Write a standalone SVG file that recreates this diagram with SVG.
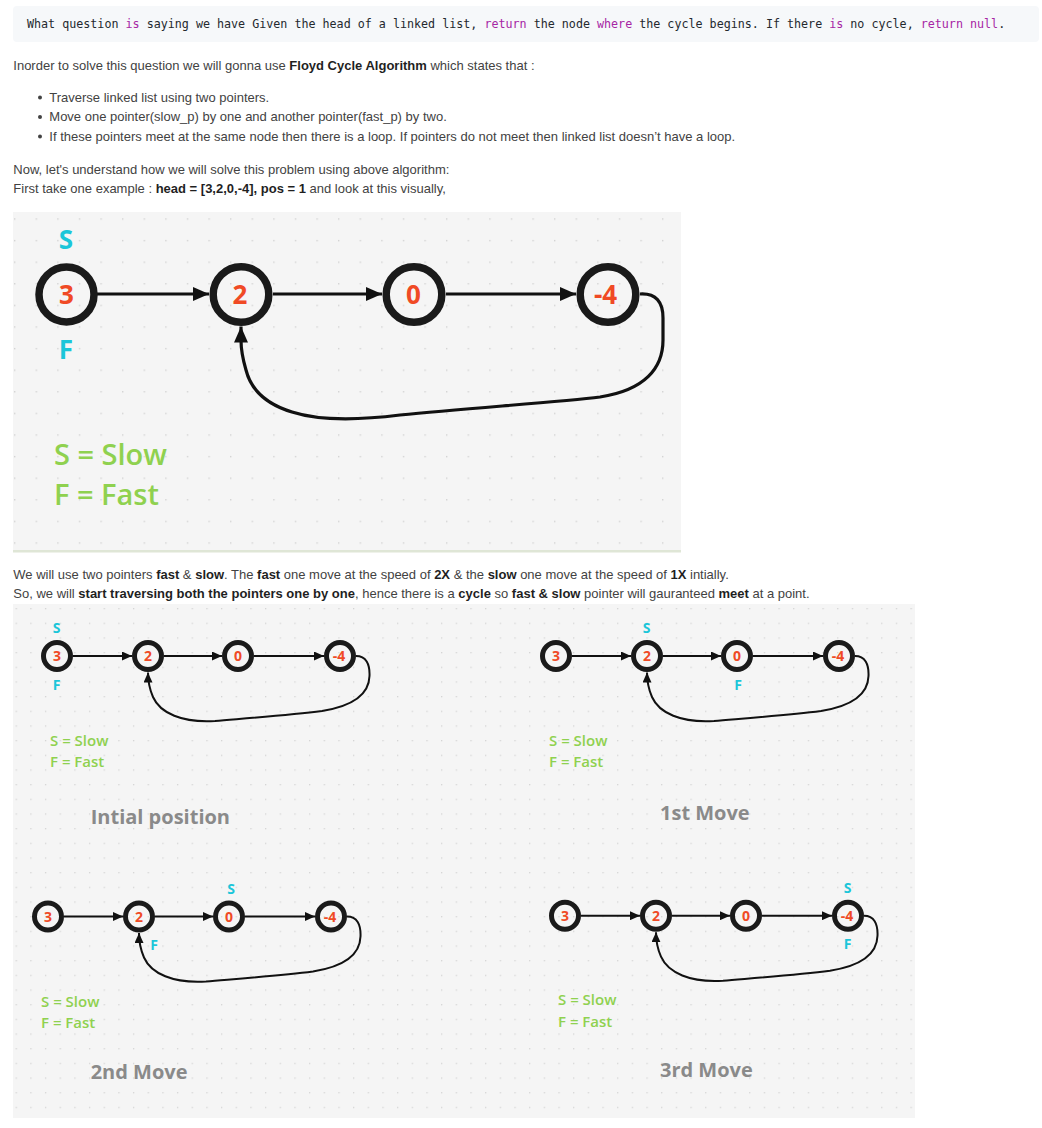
<svg xmlns="http://www.w3.org/2000/svg" width="1042" height="1128" viewBox="0 0 1042 1128">
<defs>
<style>
.body{font-family:"Liberation Sans",Arial,sans-serif;font-size:13px;fill:#424242}
.b{font-weight:700;fill:#1f1f1f}
.code{font-family:"DejaVu Sans Mono","Liberation Mono",monospace;font-size:11.7px;fill:#24292e}
.kw{fill:#a626a4}
.ring{fill:none;stroke:#1a1a1a}
.bigring{stroke-width:7.5}
.smring{stroke-width:5}
.num{font-family:"Open Sans","Noto Sans",sans-serif;font-weight:700;fill:#f04a25;text-anchor:middle}
.ptr{font-family:"Open Sans","Noto Sans",sans-serif;font-weight:700;fill:#1cc6d9;text-anchor:middle}
.leg{font-family:"Open Sans","Noto Sans",sans-serif;font-weight:600;fill:#8fd14f}
.ttl{font-family:"Open Sans","Noto Sans",sans-serif;font-weight:700;fill:#8a8a8a;font-size:20px}
.edge{fill:none;stroke:#111;stroke-linejoin:round}
.bigedge{stroke-width:3.2;marker-end:url(#ahBig)}
.smedge{stroke-width:2;marker-end:url(#ahSm)}
</style>
<pattern id="gridBig" patternUnits="userSpaceOnUse" x="14" y="218.3" width="21.6" height="21.6">
<rect x="0" y="0" width="1.4" height="1.4" fill="#d2d2d2"/>
</pattern>
<pattern id="gridSm" patternUnits="userSpaceOnUse" x="15.6" y="608" width="14.67" height="14.67">
<rect x="0" y="0" width="1.3" height="1.3" fill="#d4d4d4"/>
</pattern>
<marker id="ahBig" markerUnits="userSpaceOnUse" markerWidth="16" markerHeight="14" refX="16" refY="7" orient="auto">
<path d="M0,0 L16,7 L0,14 z" fill="#111"/>
</marker>
<marker id="ahSm" markerUnits="userSpaceOnUse" markerWidth="10" markerHeight="9" refX="10" refY="4.5" orient="auto">
<path d="M0,0 L10,4.5 L0,9 z" fill="#111"/>
</marker>
</defs>

<rect x="0" y="0" width="1042" height="1128" fill="#ffffff"/>

<!-- code block -->
<g id="codeblock">
<rect x="13" y="6" width="1026" height="36" rx="4" fill="#f6f8fa"/>
<text class="code" x="27" y="27.7">What question <tspan class="kw">is</tspan> saying we have Given the head of a linked list, <tspan class="kw">return</tspan> the node <tspan class="kw">where</tspan> the cycle begins. If there <tspan class="kw">is</tspan> no cycle, <tspan class="kw">return</tspan> <tspan class="kw">null</tspan>.</text>
</g>

<!-- body text -->
<g id="intro">
<text class="body" x="13.3" y="69.5">Inorder to solve this question we will gonna use <tspan class="b">Floyd Cycle Algorithm</tspan> which states that :</text>
<circle cx="40" cy="97.5" r="2" fill="#424242"/>
<text class="body" x="49.3" y="101.5">Traverse linked list using two pointers.</text>
<circle cx="40" cy="117" r="2" fill="#424242"/>
<text class="body" x="49.3" y="121">Move one pointer(slow_p) by one and another pointer(fast_p) by two.</text>
<circle cx="40" cy="136.5" r="2" fill="#424242"/>
<text class="body" x="49.3" y="140.5">If these pointers meet at the same node then there is a loop. If pointers do not meet then linked list doesn’t have a loop.</text>
<text class="body" x="13.3" y="174">Now, let's understand how we will solve this problem using above algorithm:</text>
<text class="body" x="13.3" y="193.3">First take one example : <tspan class="b">head = [3,2,0,-4], pos = 1</tspan> and look at this visually,</text>
</g>

<!-- big diagram -->
<g id="panel1">
<rect x="13" y="212" width="668" height="338" fill="#f5f5f5"/>
<rect x="13" y="212" width="668" height="338" fill="url(#gridBig)"/>
<rect x="13" y="550" width="668" height="2.5" fill="#dfe6d6"/>
</g>
<g id="big-edges">
<path class="edge bigedge" d="M97 294 L209 294"/>
<path class="edge bigedge" d="M273 294 L382 294"/>
<path class="edge bigedge" d="M446 294 L576 294"/>
<path class="edge bigedge" d="M640 294 C656 293 663 302 663 318 L663 340 C663 368 645 390 600 397 C560 402 470 408 400 415 C360 420 320 421 292 412 C266 404 251 390 246 370 C242.5 358 241 350 241 340 L241 326.5"/>
</g>
<g id="big-node-3"><circle class="ring bigring" cx="66.5" cy="294.5" r="27.5"/><text class="num" x="66.5" y="303.5" font-size="26">3</text></g>
<g id="big-node-2"><circle class="ring bigring" cx="241" cy="294.5" r="27.8"/><text class="num" x="240" y="303.5" font-size="26">2</text></g>
<g id="big-node-0"><circle class="ring bigring" cx="414" cy="294.5" r="27.8"/><text class="num" x="413.5" y="303.5" font-size="26">0</text></g>
<g id="big-node-m4"><circle class="ring bigring" cx="608" cy="294.5" r="27.8"/><text class="num" x="605.5" y="303.5" font-size="26">-4</text></g>
<g id="big-labels">
<text class="ptr" x="66" y="249" font-size="26">S</text>
<text class="ptr" x="66" y="359" font-size="26">F</text>
<text class="leg" x="54" y="465" font-size="29">S = Slow</text>
<text class="leg" x="54" y="505" font-size="29">F = Fast</text>
</g>

<g id="para2">
<text class="body" x="13.3" y="579">We will use two pointers <tspan class="b">fast</tspan> &amp; <tspan class="b">slow</tspan>. The <tspan class="b">fast</tspan> one move at the speed of <tspan class="b">2X</tspan> &amp; the <tspan class="b">slow</tspan> one move at the speed of <tspan class="b">1X</tspan> intially.</text>
<text class="body" x="13.3" y="598">So, we will <tspan class="b">start traversing both the pointers one by one</tspan>, hence there is a <tspan class="b">cycle</tspan> so <tspan class="b">fast &amp; slow</tspan> pointer will gauranteed <tspan class="b">meet</tspan> at a point.</text>
</g>

<!-- panel 2 -->
<g id="panel2">
<rect x="13" y="604" width="902" height="514" fill="#f5f5f5"/>
<rect x="13" y="604" width="902" height="514" fill="url(#gridSm)"/>
</g>

<!-- Initial position -->
<g id="stepA">
<g id="stepA-edges">
<path class="edge smedge" d="M73 656 L132 656"/>
<path class="edge smedge" d="M164 656 L222 656"/>
<path class="edge smedge" d="M254 656 L324 656"/>
<path class="edge smedge" d="M356 656 C366 656 370 664 369.5 676 C369 695 353 706 322 711 C290 715 250 718 215 721 C182 723 160 713 153 697 C149.5 689 148 682 148 672.5"/>
</g>
<g id="stepA-node-3"><circle class="ring smring" cx="57" cy="656" r="13.5"/><text class="num" x="57" y="661" font-size="14">3</text></g>
<g id="stepA-node-2"><circle class="ring smring" cx="148" cy="656" r="13.5"/><text class="num" x="148" y="661" font-size="14">2</text></g>
<g id="stepA-node-0"><circle class="ring smring" cx="238" cy="656" r="13.5"/><text class="num" x="238" y="661" font-size="14">0</text></g>
<g id="stepA-node-m4"><circle class="ring smring" cx="340" cy="656" r="13.5"/><text class="num" x="339" y="661" font-size="14">-4</text></g>
<text class="ptr" x="56.5" y="633" font-size="14">S</text>
<text class="ptr" x="56.5" y="690" font-size="14">F</text>
<text class="leg" x="50" y="746" font-size="15">S = Slow</text>
<text class="leg" x="50" y="767" font-size="15">F = Fast</text>
</g>

<!-- 1st move -->
<g id="stepB" transform="translate(499,0)">
<g id="stepB-edges">
<path class="edge smedge" d="M73 656 L132 656"/>
<path class="edge smedge" d="M164 656 L222 656"/>
<path class="edge smedge" d="M254 656 L324 656"/>
<path class="edge smedge" d="M356 656 C366 656 370 664 369.5 676 C369 695 353 706 322 711 C290 715 250 718 215 721 C182 723 160 713 153 697 C149.5 689 148 682 148 672.5"/>
</g>
<g id="stepB-node-3"><circle class="ring smring" cx="57" cy="656" r="13.5"/><text class="num" x="57" y="661" font-size="14">3</text></g>
<g id="stepB-node-2"><circle class="ring smring" cx="148" cy="656" r="13.5"/><text class="num" x="148" y="661" font-size="14">2</text></g>
<g id="stepB-node-0"><circle class="ring smring" cx="238" cy="656" r="13.5"/><text class="num" x="238" y="661" font-size="14">0</text></g>
<g id="stepB-node-m4"><circle class="ring smring" cx="340" cy="656" r="13.5"/><text class="num" x="339" y="661" font-size="14">-4</text></g>
<text class="ptr" x="147.5" y="633" font-size="14">S</text>
<text class="ptr" x="239" y="690" font-size="14">F</text>
<text class="leg" x="50" y="746" font-size="15">S = Slow</text>
<text class="leg" x="50" y="767" font-size="15">F = Fast</text>
</g>

<!-- 2nd move -->
<g id="stepC" transform="translate(-9,260.5)">
<g id="stepC-edges">
<path class="edge smedge" d="M73 656 L132 656"/>
<path class="edge smedge" d="M164 656 L222 656"/>
<path class="edge smedge" d="M254 656 L324 656"/>
<path class="edge smedge" d="M356 656 C366 656 370 664 369.5 676 C369 695 353 706 322 711 C290 715 250 718 215 721 C182 723 160 713 153 697 C149.5 689 148 682 148 672.5"/>
</g>
<g id="stepC-node-3"><circle class="ring smring" cx="57" cy="656" r="13.5"/><text class="num" x="57" y="661" font-size="14">3</text></g>
<g id="stepC-node-2"><circle class="ring smring" cx="148" cy="656" r="13.5"/><text class="num" x="148" y="661" font-size="14">2</text></g>
<g id="stepC-node-0"><circle class="ring smring" cx="238" cy="656" r="13.5"/><text class="num" x="238" y="661" font-size="14">0</text></g>
<g id="stepC-node-m4"><circle class="ring smring" cx="340" cy="656" r="13.5"/><text class="num" x="339" y="661" font-size="14">-4</text></g>
<text class="ptr" x="240" y="633.5" font-size="14">S</text>
<text class="ptr" x="163" y="689.5" font-size="14">F</text>
<text class="leg" x="50" y="746" font-size="15">S = Slow</text>
<text class="leg" x="50" y="767.5" font-size="15">F = Fast</text>
</g>

<!-- 3rd move -->
<g id="stepD" transform="translate(508,259.7)">
<g id="stepD-edges">
<path class="edge smedge" d="M73 656 L132 656"/>
<path class="edge smedge" d="M164 656 L222 656"/>
<path class="edge smedge" d="M254 656 L324 656"/>
<path class="edge smedge" d="M356 656 C366 656 370 664 369.5 676 C369 695 353 706 322 711 C290 715 250 718 215 721 C182 723 160 713 153 697 C149.5 689 148 682 148 672.5"/>
</g>
<g id="stepD-node-3"><circle class="ring smring" cx="57" cy="656" r="13.5"/><text class="num" x="57" y="661" font-size="14">3</text></g>
<g id="stepD-node-2"><circle class="ring smring" cx="148" cy="656" r="13.5"/><text class="num" x="148" y="661" font-size="14">2</text></g>
<g id="stepD-node-0"><circle class="ring smring" cx="238" cy="656" r="13.5"/><text class="num" x="238" y="661" font-size="14">0</text></g>
<g id="stepD-node-m4"><circle class="ring smring" cx="340" cy="656" r="13.5"/><text class="num" x="339" y="661" font-size="14">-4</text></g>
<text class="ptr" x="339.5" y="633" font-size="14">S</text>
<text class="ptr" x="339.5" y="689" font-size="14">F</text>
<text class="leg" x="50" y="745.5" font-size="15">S = Slow</text>
<text class="leg" x="50" y="767" font-size="15">F = Fast</text>
</g>

<g id="titles">
<text class="ttl" x="90.7" y="824">Intial position</text>
<text class="ttl" x="660" y="820">1st Move</text>
<text class="ttl" x="90.7" y="1079">2nd Move</text>
<text class="ttl" x="660" y="1077">3rd Move</text>
</g>
</svg>
